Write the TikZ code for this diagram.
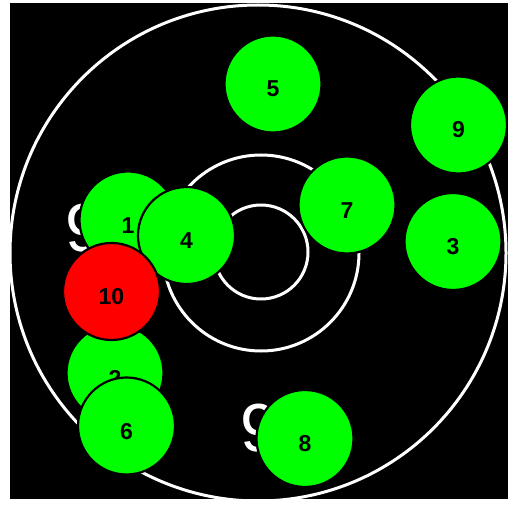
\documentclass[tikz,border=0pt]{standalone}
\usepackage{fontspec}
\setmainfont{Liberation Sans}
\definecolor{nodegreen}{HTML}{00FF00}
\definecolor{nodered}{HTML}{FF0000}
\tikzset{
  ringline/.style={draw=white, line width=3pt},
  ball/.style={circle, draw=black, line width=2.2pt, minimum size=97pt, inner sep=0pt,
    font=\fontsize{23}{23}\selectfont\bfseries, text height=26pt, text depth=0pt, text=black},
  greenball/.style={ball, fill=nodegreen},
  redball/.style={ball, fill=nodered},
  bignine/.style={text=white, font=\fontsize{68}{68}\selectfont, inner sep=0pt, anchor=base west}
}
\begin{document}
\begin{tikzpicture}[x=1pt, y=-1pt]
\useasboundingbox (0,0) rectangle (508,505);
\fill[white] (0,0) rectangle (508,505);
\fill[black] (10,3) rectangle (508,499);
% target rings
\draw[ringline] (258,253) circle[radius=248];
\draw[ringline] (261,253) circle[radius=98];
\draw[ringline] (261,252) circle[radius=47];
% ring labels
\node[bignine] (ninea) at (65,251) {9};
\node[bignine] (nineb) at (240,451) {9};
% shots
\node[greenball] (n5) at (273,84) {5};
\node[greenball] (n9) at (458.5,125) {9};
\node[greenball] (n7) at (347,205) {7};
\node[greenball] (n3) at (453,241.5) {3};
\node[greenball] (n8) at (305,438.5) {8};
\node[greenball] (n1) at (128,220) {1};
\node[greenball] (n4) at (186.5,235.5) {4};
\node[greenball] (n2) at (115,373) {2};
\node[redball] (n10) at (111.5,291.5) {10};
\node[greenball] (n6) at (126.5,426) {6};
\end{tikzpicture}
\end{document}
